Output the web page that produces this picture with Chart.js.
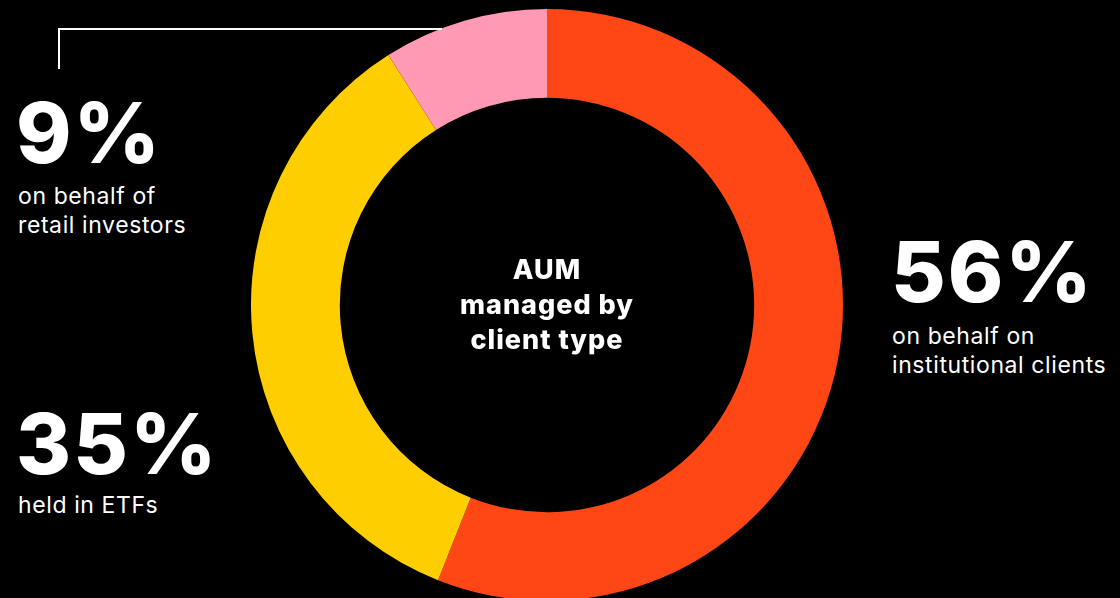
<!DOCTYPE html>
<html>
<head>
<meta charset="utf-8">
<script src="https://cdn.jsdelivr.net/npm/chart.js@4/dist/chart.umd.min.js"></script>
<style>
  html, body { margin: 0; padding: 0; background: #000; width: 1120px; height: 598px; overflow: hidden; }
  body { position: relative; font-family: Inter, "Open Sans", sans-serif; color: #fff; }
  #wrap { position: absolute; left: 251px; top: 9px; width: 592px; height: 592px; }
  .big { position: absolute; font-weight: 800; font-size: 84px; line-height: 1; letter-spacing: 2px; }
  .sub { position: absolute; font-weight: 400; font-size: 23px; line-height: 29px; letter-spacing: 0.6px; }
  #center { position: absolute; left: 397px; width: 300px; top: 252px; text-align: center; font-weight: 800; font-size: 27px; line-height: 35px; letter-spacing: 1px; }
  #conn { position: absolute; left: 58px; top: 28px; width: 384px; height: 41px; border-left: 2px solid #fff; border-top: 2px solid #fff; box-sizing: border-box; }
</style>
</head>
<body>
<div id="wrap"><canvas id="c"></canvas></div>
<div id="conn"></div>
<div class="big" id="v9" style="left:16px; top:91px;"></div>
<div class="sub" id="t9" style="left:18px; top:182px;"></div>
<div class="big" id="v35" style="left:16px; top:402px;"></div>
<div class="sub" id="t35" style="left:18px; top:491px;"></div>
<div class="big" id="v56" style="left:891px; top:230px;"></div>
<div class="sub" id="t56" style="left:892px; top:322px;"></div>
<div id="center"></div>
<script>
const categories = ["Institutional clients", "ETFs", "Retail investors"];
const shares = [56, 35, 9];
const colors = ["#FF4715", "#FFCE00", "#FF99B4"];
const captions = [["on behalf on", "institutional clients"], ["held in ETFs"], ["on behalf of", "retail investors"]];
const centerTitle = ["AUM", "managed by", "client type"];

document.getElementById("v56").textContent = shares[0] + "%";
document.getElementById("v35").textContent = shares[1] + "%";
document.getElementById("v9").textContent = shares[2] + "%";
document.getElementById("t56").innerHTML = captions[0].join("<br>");
document.getElementById("t35").innerHTML = captions[1].join("<br>");
document.getElementById("t9").innerHTML = captions[2].join("<br>");
document.getElementById("center").innerHTML = centerTitle.join("<br>");

new Chart(document.getElementById("c"), {
  type: "doughnut",
  data: {
    labels: categories,
    datasets: [{
      data: shares,
      backgroundColor: colors,
      borderWidth: 0,
      hoverOffset: 0,
      offset: 0
    }]
  },
  options: {
    responsive: true,
    maintainAspectRatio: false,
    animation: false,
    cutout: "70%",
    rotation: 0,
    layout: { padding: 0 },
    plugins: { legend: { display: false }, tooltip: { enabled: false } },
    events: []
  }
});
</script>
</body>
</html>
